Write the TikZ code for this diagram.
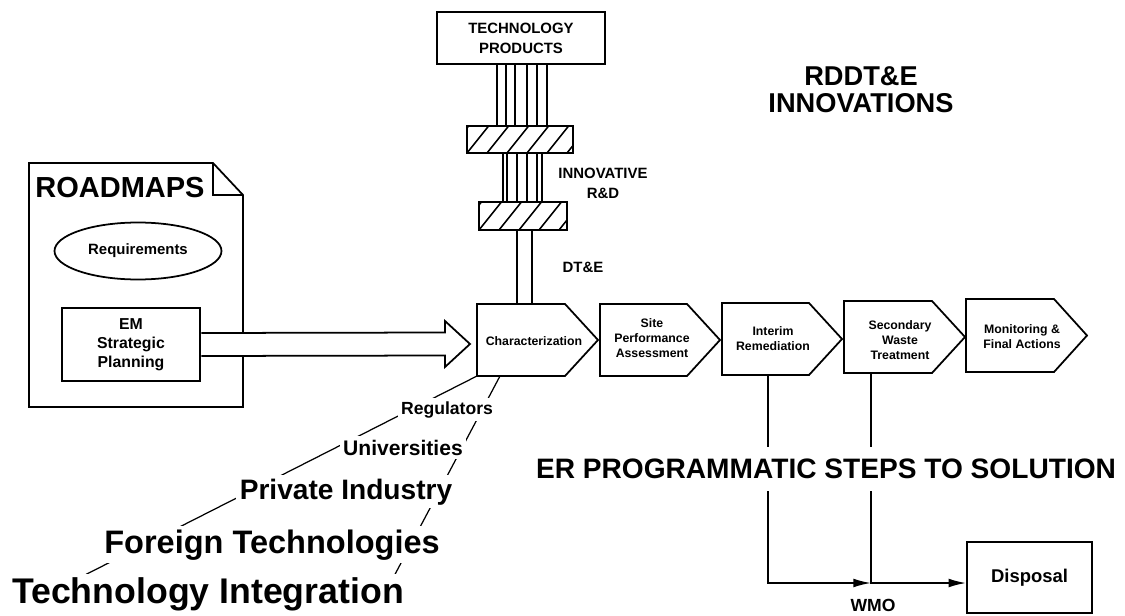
\documentclass[tikz,border=0pt]{standalone}
\usepackage{fontspec}
\setmainfont{Liberation Sans}
\usetikzlibrary{arrows.meta,shapes.geometric,calc}
\newcommand{\fsz}[2]{\fontsize{#1}{#2}\selectfont\bfseries}
\newcommand{\pentagon}[4]{% left, tip, top, bottom
  \draw[fill=white] (#1,#3) -- ({#2-33},#3) -- (#2,{(#3+#4)/2}) -- ({#2-33},#4) -- (#1,#4) -- cycle;}
\begin{document}
\begin{tikzpicture}[x=0.02cm,y=-0.02cm,line width=1pt,
  txt/.style={align=center,inner sep=0pt},
  cut/.style={fill=white,inner sep=2pt,anchor=base},
  hatchbox/.style={draw,inner sep=0pt,path picture={
      \foreach \i in {-40,-20,...,140}{\draw[line width=0.9pt] ([xshift=\i*0.02cm]path picture bounding box.south west) -- ++(24,-30);}}},
  tipline/.style={-{Latex[length=10pt,width=5pt]}},
  rough/.style={line width=0.7pt}]
\useasboundingbox (0,0) rectangle (1125,615);

% ---------- RDDT&E stack ----------
\node[draw,txt,minimum width=3.36cm,minimum height=1.04cm,font=\fsz{8.5}{11.3}] (prod) at (521,38) {TECHNOLOGY\\PRODUCTS};
\node[hatchbox,minimum width=2.12cm,minimum height=0.54cm] (hb1) at (520,139.5) {};
\node[hatchbox,minimum width=1.76cm,minimum height=0.56cm] (hb2) at (523,216) {};
\foreach \d in {-24,-15,-6,6,16,26}
  \draw ($(prod.south)+(\d,0)$) -- ($(hb1.north)+(\d+1,0)$);
\foreach \d in {-19,-15,-5,5,15,20}
  \draw ($(hb1.south)+(\d+2,0)$) -- ($(hb2.north)+(\d-1,0)$);
\coordinate (charTop) at (524,304);
\foreach \d in {-6,9}
  \draw ($(hb2.south)+(\d,0)$) -- ($(charTop)+(\d-1,0)$);
\node[txt,font=\fsz{8.5}{11.3}] (innov) at (603,183) {INNOVATIVE\\R\&D};
\node[txt,font=\fsz{8.5}{10}] (dte) at (583,267) {DT\&E};
\node[txt,font=\fsz{15.5}{18}] (rddte) at (861,76) {RDDT\&E};
\node[txt,font=\fsz{15.5}{18}] (innovs) at (861,103) {INNOVATIONS};

% ---------- fan lines ----------
\coordinate (charBL) at (477,376);
\coordinate (charB2) at (500,376);
\coordinate (fanL) at (77,579);
\coordinate (fanR) at (392,580);
\draw[rough] (charBL) -- (fanL);
\draw[rough] (charB2) -- (fanR);

% ---------- roadmaps document ----------
\draw[fill=white] (29,163) -- (213,163) -- (243,195) -- (243,407) -- (29,407) -- cycle;
\draw (213,163) -- (213,195) -- (243,195);
\node[txt,font=\fsz{16.5}{18}] (road) at (120,188) {ROADMAPS};
\node[draw,ellipse,inner sep=0pt,minimum width=3.34cm,minimum height=1.14cm,font=\fsz{8.5}{10}] (req) at (138,251) {Requirements};
\node[draw,txt,minimum width=2.76cm,minimum height=1.46cm,font=\fsz{9}{10.8}] (em) at (131,344.5) {EM\\Strategic\\Planning};
\coordinate (bigtip) at (470,344);
\draw[fill=white] ($(em.east)+(0.6,-11.5)$) -- (445,332.5) -- (445,321) -- (bigtip) -- (445,367) -- (445,355.5) -- ($(em.east)+(0.6,11.5)$);

% ---------- process steps ----------
\pentagon{477}{598}{304}{376}
\pentagon{600}{720}{304}{376}
\pentagon{722}{842}{303}{375}
\pentagon{844}{965}{301}{373}
\pentagon{966}{1087}{299}{372}
\node[txt,font=\fsz{7}{8.5}] (char) at (534,341) {Characterization};
\node[txt,font=\fsz{7}{8.5}] (site) at (652,338) {Site\\Performance\\Assessment};
\node[txt,font=\fsz{7}{8.5}] (interim) at (773,339) {Interim\\Remediation};
\node[txt,font=\fsz{7}{8.5}] (second) at (900,340) {Secondary\\Waste\\Treatment};
\node[txt,font=\fsz{7}{8.5}] (monitor) at (1022,337) {Monitoring \&\\Final Actions};

% ---------- WMO / disposal ----------
\coordinate (interimB) at (768,375);
\coordinate (secondB) at (871,373);
\coordinate (wmoJ) at (871,583);
\node[draw,txt,minimum width=2.5cm,minimum height=1.42cm,font=\fsz{10.5}{12}] (disp) at (1029.5,577.5) {Disposal};
\draw[tipline] (interimB) |- (wmoJ);
\draw[tipline] (secondB) -- (wmoJ) -- (wmoJ -| disp.west);
\node[txt,font=\fsz{10}{12}] (wmo) at (873,605) {WMO};
\node[fill=white,inner xsep=2pt,inner ysep=7pt,font=\fsz{16}{18}] (er) at (826,469) {ER PROGRAMMATIC STEPS TO SOLUTION};

% ---------- technology integration labels ----------
\node[cut,font=\fsz{10}{12}] (reg) at (447,414) {Regulators};
\node[cut,font=\fsz{12}{14}] (univ) at (403,455) {Universities};
\node[cut,font=\fsz{16}{18}] (priv) at (346,499) {Private Industry};
\node[cut,font=\fsz{18.5}{20}] (foreign) at (272,553) {Foreign Technologies};
\node[cut,font=\fsz{20.3}{24}] (techint) at (208,603) {Technology Integration};
\end{tikzpicture}
\end{document}
